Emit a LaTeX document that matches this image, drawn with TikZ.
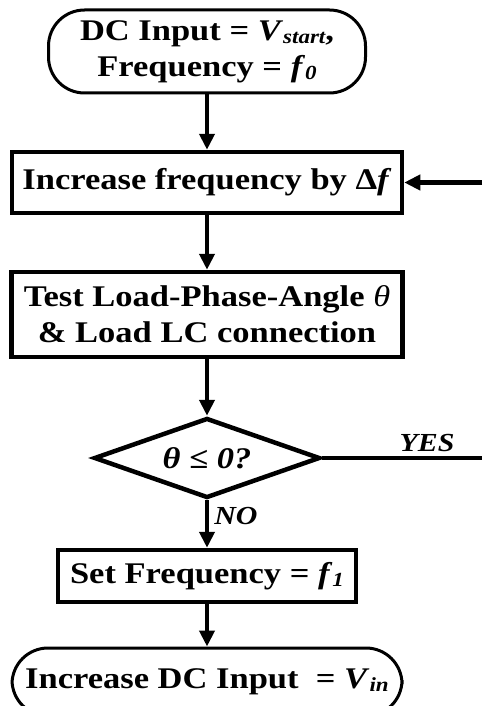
\documentclass[tikz,border=0pt]{standalone}
\usepackage{fontspec}
\setmainfont{Liberation Serif}[FakeStretch=1.15]
\usetikzlibrary{shapes.geometric,arrows.meta}
\newcommand\sbs[1]{\raisebox{-3pt}{\fontsize{20}{20}\selectfont\itshape #1}}
\tikzset{
  base/.style={draw, align=center, inner sep=0pt, font=\fontsize{30}{36}\selectfont\bfseries},
  proc/.style={base, rectangle, line width=4.5pt},
  term/.style={base, rectangle, rounded corners=36pt, line width=3pt},
  decision/.style={base, diamond, aspect=2.8, line width=4.5pt},
  arr/.style={-{Triangle[length=16pt,width=15pt]}, line width=4.5pt},
  conn/.style={line width=4.5pt},
  lbl/.style={inner sep=0pt, font=\fontsize{26}{26}\selectfont\bfseries\itshape}
}
\begin{document}
\begin{tikzpicture}[x=1pt,y=-1pt]
\useasboundingbox (0,0) rectangle (482,706);
\node[term, minimum width=317pt, minimum height=83pt] (t1) at (207,51.5)
  {DC Input = \textit{V}\sbs{start},\\Frequency = \textit{f}\sbs{0}};
\node[proc, minimum width=390pt, minimum height=61pt] (b2) at (207,182.5)
  {Increase frequency by Δ\textit{f}};
\node[proc, minimum width=391pt, minimum height=85pt] (b3) at (207,314.5)
  {Test Load-Phase-Angle {\mdseries\itshape θ}\\\& Load LC connection};
\node[decision, minimum width=226pt, minimum height=80pt] (d) at (207,458)
  {\itshape θ ≤ 0?};
\node[proc, minimum width=298pt, minimum height=52pt] (b4) at (207,576)
  {Set Frequency = \textit{f}\sbs{1}};
\node[term, minimum width=390pt, minimum height=68pt] (t2) at (207,682)
  {Increase DC Input\ \ = \textit{V}\sbs{in}};
\coordinate (fb) at (482,182.5);
\coordinate (ye) at (482,458);
\node[lbl] (yes) at (427,443) {YES};
\node[lbl] (no) at (236,516) {NO};
\draw[arr] (t1.south) -- (b2.north);
\draw[arr] (b2.south) -- (b3.north);
\draw[arr] (b3.south) -- (d.north);
\draw[arr] (d.south) -- (b4.north);
\draw[arr] (b4.south) -- (t2.north);
\draw[arr] (fb) -- (b2.east);
\draw[conn] (d.east) -- (ye);
\end{tikzpicture}
\end{document}
